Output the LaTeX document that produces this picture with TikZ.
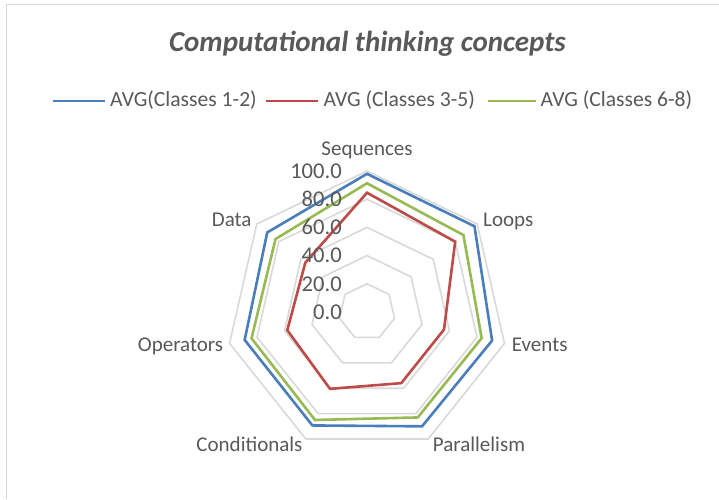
\documentclass[tikz,border=0pt]{standalone}
\usepackage{fontspec}
\setmainfont{Carlito}
\definecolor{gridc}{HTML}{D9D9D9}
\definecolor{txt}{HTML}{595959}
\definecolor{sblue}{HTML}{4A7EBB}
\definecolor{sred}{HTML}{BE4B48}
\definecolor{sgreen}{HTML}{98B954}
\begin{document}
\begin{tikzpicture}[x=1pt,y=1pt,
  gridline/.style={draw=gridc,line width=1.6pt},
  series/.style={line width=2.6pt,line join=miter},
  legline/.style={line width=2.6pt},
  axlabel/.style={text=txt,font=\fontsize{21}{25}\selectfont,inner sep=0pt},
  ticklabel/.style={text=txt,font=\fontsize{22.6}{27}\selectfont,inner sep=0pt,anchor=base east},
  legtext/.style={text=txt,font=\fontsize{21.6}{25}\selectfont,inner sep=0pt,anchor=base west},
  titletext/.style={text=txt,font=\fontsize{29}{34}\selectfont\bfseries\itshape,inner sep=0pt,anchor=base}]
\useasboundingbox (0,0) rectangle (719,499);
\fill[white] (0,0) rectangle (719,499);
\draw[draw=gridc,line width=1.5pt] (6.5,0) -- (6.5,494.5) -- (719,494.5);
% title
\node[titletext] (title) at (367.5,447.3) {Computational thinking concepts};
% legend
\coordinate (l1a) at (52.7,398); \coordinate (l1b) at (105,398);
\coordinate (l2a) at (266,398); \coordinate (l2b) at (317.7,398);
\coordinate (l3a) at (488,398); \coordinate (l3b) at (536,398);
\draw[legline,sblue] (l1a) -- (l1b);
\draw[legline,sred] (l2a) -- (l2b);
\draw[legline,sgreen] (l3a) -- (l3b);
\node[legtext] (lt1) at (110,392.3) {AVG(Classes 1-2)};
\node[legtext] (lt2) at (323.3,392.3) {AVG (Classes 3-5)};
\node[legtext] (lt3) at (540.5,392.3) {AVG (Classes 6-8)};
\begin{scope}[shift={(367,187)}]
  % grid rings
  \foreach \v in {20,40,60,80,100}{
    \draw[gridline] (90:{1.41*\v}) \foreach \k in {1,...,6}{ -- ({90-\k*360/7}:{1.41*\v})} -- cycle;
  }
  % series
  \draw[series,sblue] (90:{1.41*98}) -- ({90-1*360/7}:{1.41*97.5}) -- ({90-2*360/7}:{1.41*91})
    -- ({90-3*360/7}:{1.41*90}) -- ({90-4*360/7}:{1.41*89.3}) -- ({90-5*360/7}:{1.41*89})
    -- ({90-6*360/7}:{1.41*90.5}) -- cycle;
  \draw[series,sred] (90:{1.41*84.6}) -- ({90-1*360/7}:{1.41*80}) -- ({90-2*360/7}:{1.41*56})
    -- ({90-3*360/7}:{1.41*56}) -- ({90-4*360/7}:{1.41*60.5}) -- ({90-5*360/7}:{1.41*58})
    -- ({90-6*360/7}:{1.41*56}) -- cycle;
  \draw[series,sgreen] (90:{1.41*91.3}) -- ({90-1*360/7}:{1.41*87.5}) -- ({90-2*360/7}:{1.41*83.4})
    -- ({90-3*360/7}:{1.41*83}) -- ({90-4*360/7}:{1.41*85}) -- ({90-5*360/7}:{1.41*84})
    -- ({90-6*360/7}:{1.41*83}) -- cycle;
  % tick labels
  \node[ticklabel] (t100) at (-25,{1.41*100-7.3}) {100.0};
  \node[ticklabel] (t80) at (-25,{1.41*80-7.3}) {80.0};
  \node[ticklabel] (t60) at (-25,{1.41*60-7.3}) {60.0};
  \node[ticklabel] (t40) at (-25,{1.41*40-7.3}) {40.0};
  \node[ticklabel] (t20) at (-25,{1.41*20-7.3}) {20.0};
  \node[ticklabel] (t0) at (-25,{-7.3}) {0.0};
\end{scope}
% axis labels
\node[axlabel,anchor=base] (aseq) at (367,343.5) {Sequences};
\node[axlabel,anchor=base west] (aloop) at (483,273) {Loops};
\node[axlabel,anchor=base west] (aev) at (511.7,147.3) {Events};
\node[axlabel,anchor=base west] (apar) at (432.7,47.5) {Parallelism};
\node[axlabel,anchor=base east] (acond) at (302.7,47.5) {Conditionals};
\node[axlabel,anchor=base east] (aop) at (223.3,147.3) {Operators};
\node[axlabel,anchor=base east] (adata) at (251.7,273) {Data};
\end{tikzpicture}
\end{document}
